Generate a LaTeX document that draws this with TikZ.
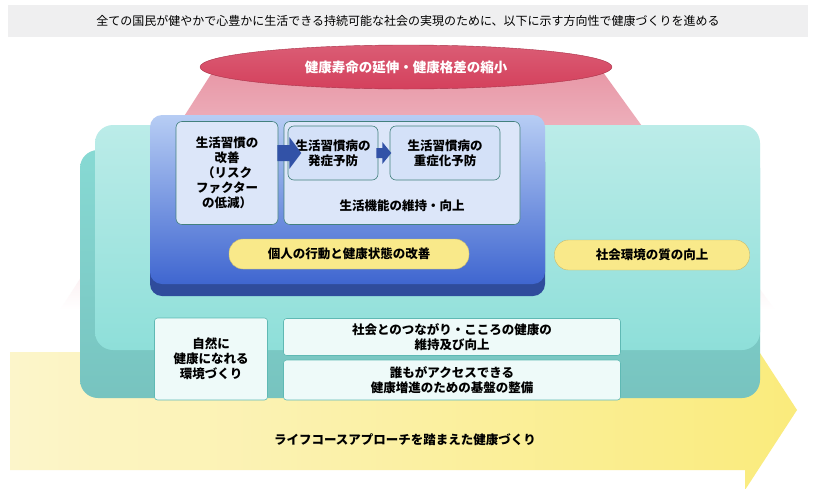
\documentclass[tikz,border=0pt]{standalone}
\usepackage{fontspec}
\setmainfont{Noto Sans CJK JP}
\definecolor{tealc}{HTML}{8EDFD9}
\definecolor{teald}{HTML}{5FB9B4}
\definecolor{bluec}{HTML}{3F66D0}
\definecolor{bluel}{HTML}{B7CDF4}
\definecolor{lbox}{HTML}{DCE6F9}
\definecolor{ylw}{HTML}{F9E98A}
\definecolor{crim}{HTML}{D4405C}
\tikzset{
 lbl/.style={font=\bfseries\fontsize{12.5}{15}\selectfont, text=black, align=center},
 ibox/.style={draw=teald!70!black, fill=lbox, rounded corners=6, line width=0.6pt},
 wbox/.style={draw=teald, fill=white!85!tealc, rounded corners=3, line width=0.6pt},
 pill/.style={fill=ylw, rounded corners=14, draw=ylw!80!black, line width=0.4pt},
}
\begin{document}
\begin{tikzpicture}[x=1pt,y=-1pt]
\useasboundingbox (0,0) rectangle (815,488);
\fill[white] (0,0) rectangle (815,488);
% top banner
\node[fill=blue!5!gray!12, minimum width=800, minimum height=32, inner sep=0, font=\fontsize{12}{14}\selectfont] (ban) at (408,21) {全ての国民が健やかで心豊かに生活できる持続可能な社会の実現のために、以下に示す方向性で健康づくりを進める};
% pink trapezoid
\shade[top color=crim!55, bottom color=white] (215,68) -- (600,68) -- (775,310) -- (60,310) -- cycle;
% yellow arrow
\shade[left color=ylw!45, right color=ylw!90!yellow] (10,352) -- (745,352) -- (745,330) -- (797,410) -- (745,490) -- (745,470) -- (10,470) -- cycle;
% teal box
\shade[top color=tealc!85!teald, bottom color=teald!85, rounded corners=18] (80,150) rectangle (760,398);
\shade[top color=tealc!60!white, bottom color=tealc, rounded corners=18] (95,125) rectangle (760,350);
% blue box
\fill[bluec!75!black, rounded corners=12] (150,150) rectangle (545,296);
\shade[top color=bluel, bottom color=bluec, rounded corners=12] (150,115) rectangle (545,284);
% pills
\node[pill, minimum width=240, minimum height=30, lbl] (p1) at (349,254) {個人の行動と健康状態の改善};
\node[pill, minimum width=195, minimum height=30, lbl] (p2) at (652,255) {社会環境の質の向上};
% inner boxes
\node[ibox, minimum width=102, minimum height=103, lbl, inner sep=1] (a) at (227,173) {生活習慣の\\改善\\（リスク\\ファクター\\の低減）};
\node[ibox, minimum width=236, minimum height=103] (big) at (402,173) {};
\node[lbl] (bt) at (402,206) {生活機能の維持・向上};
\node[ibox, fill=bluel!60!white, minimum width=90, minimum height=54, lbl, inner sep=1] (b) at (333,153) {生活習慣病の\\発症予防};
\node[ibox, fill=bluel!60!white, minimum width=110, minimum height=54, lbl, inner sep=1] (c) at (445,153) {生活習慣病の\\重症化予防};
\fill[bluec!80!black] ([xshift=-1]a.east |- 0,145) -- ++(12,0) -- ++(0,-8) -- ++(12,16) -- ++(-12,16) -- ++(0,-8) -- ++(-12,0) -- cycle;
\fill[bluec!80!black] ([xshift=-2]b.east |- 0,148) -- ++(6,0) -- ++(0,-6) -- ++(9,11) -- ++(-9,11) -- ++(0,-6) -- ++(-6,0) -- cycle;
% red pill
\shade[top color=crim!85!white, bottom color=crim, draw=crim!80!black] (406,67) ellipse (206 and 22);
\node[font=\bfseries\fontsize{13.5}{16}\selectfont, text=white] (red) at (406,67) {健康寿命の延伸・健康格差の縮小};
% bottom boxes
\node[wbox, minimum width=113, minimum height=82, lbl] (d) at (211,359) {自然に\\健康になれる\\環境づくり};
\node[wbox, minimum width=337, minimum height=37, lbl, inner sep=1] (e) at (452,337) {社会とのつながり・こころの健康の\\維持及び向上};
\node[wbox, minimum width=337, minimum height=40, lbl, inner sep=1] (f) at (452,380) {誰もがアクセスできる\\健康増進のための基盤の整備};
\node[lbl] (g) at (405,440) {ライフコースアプローチを踏まえた健康づくり};
\end{tikzpicture}
\end{document}
